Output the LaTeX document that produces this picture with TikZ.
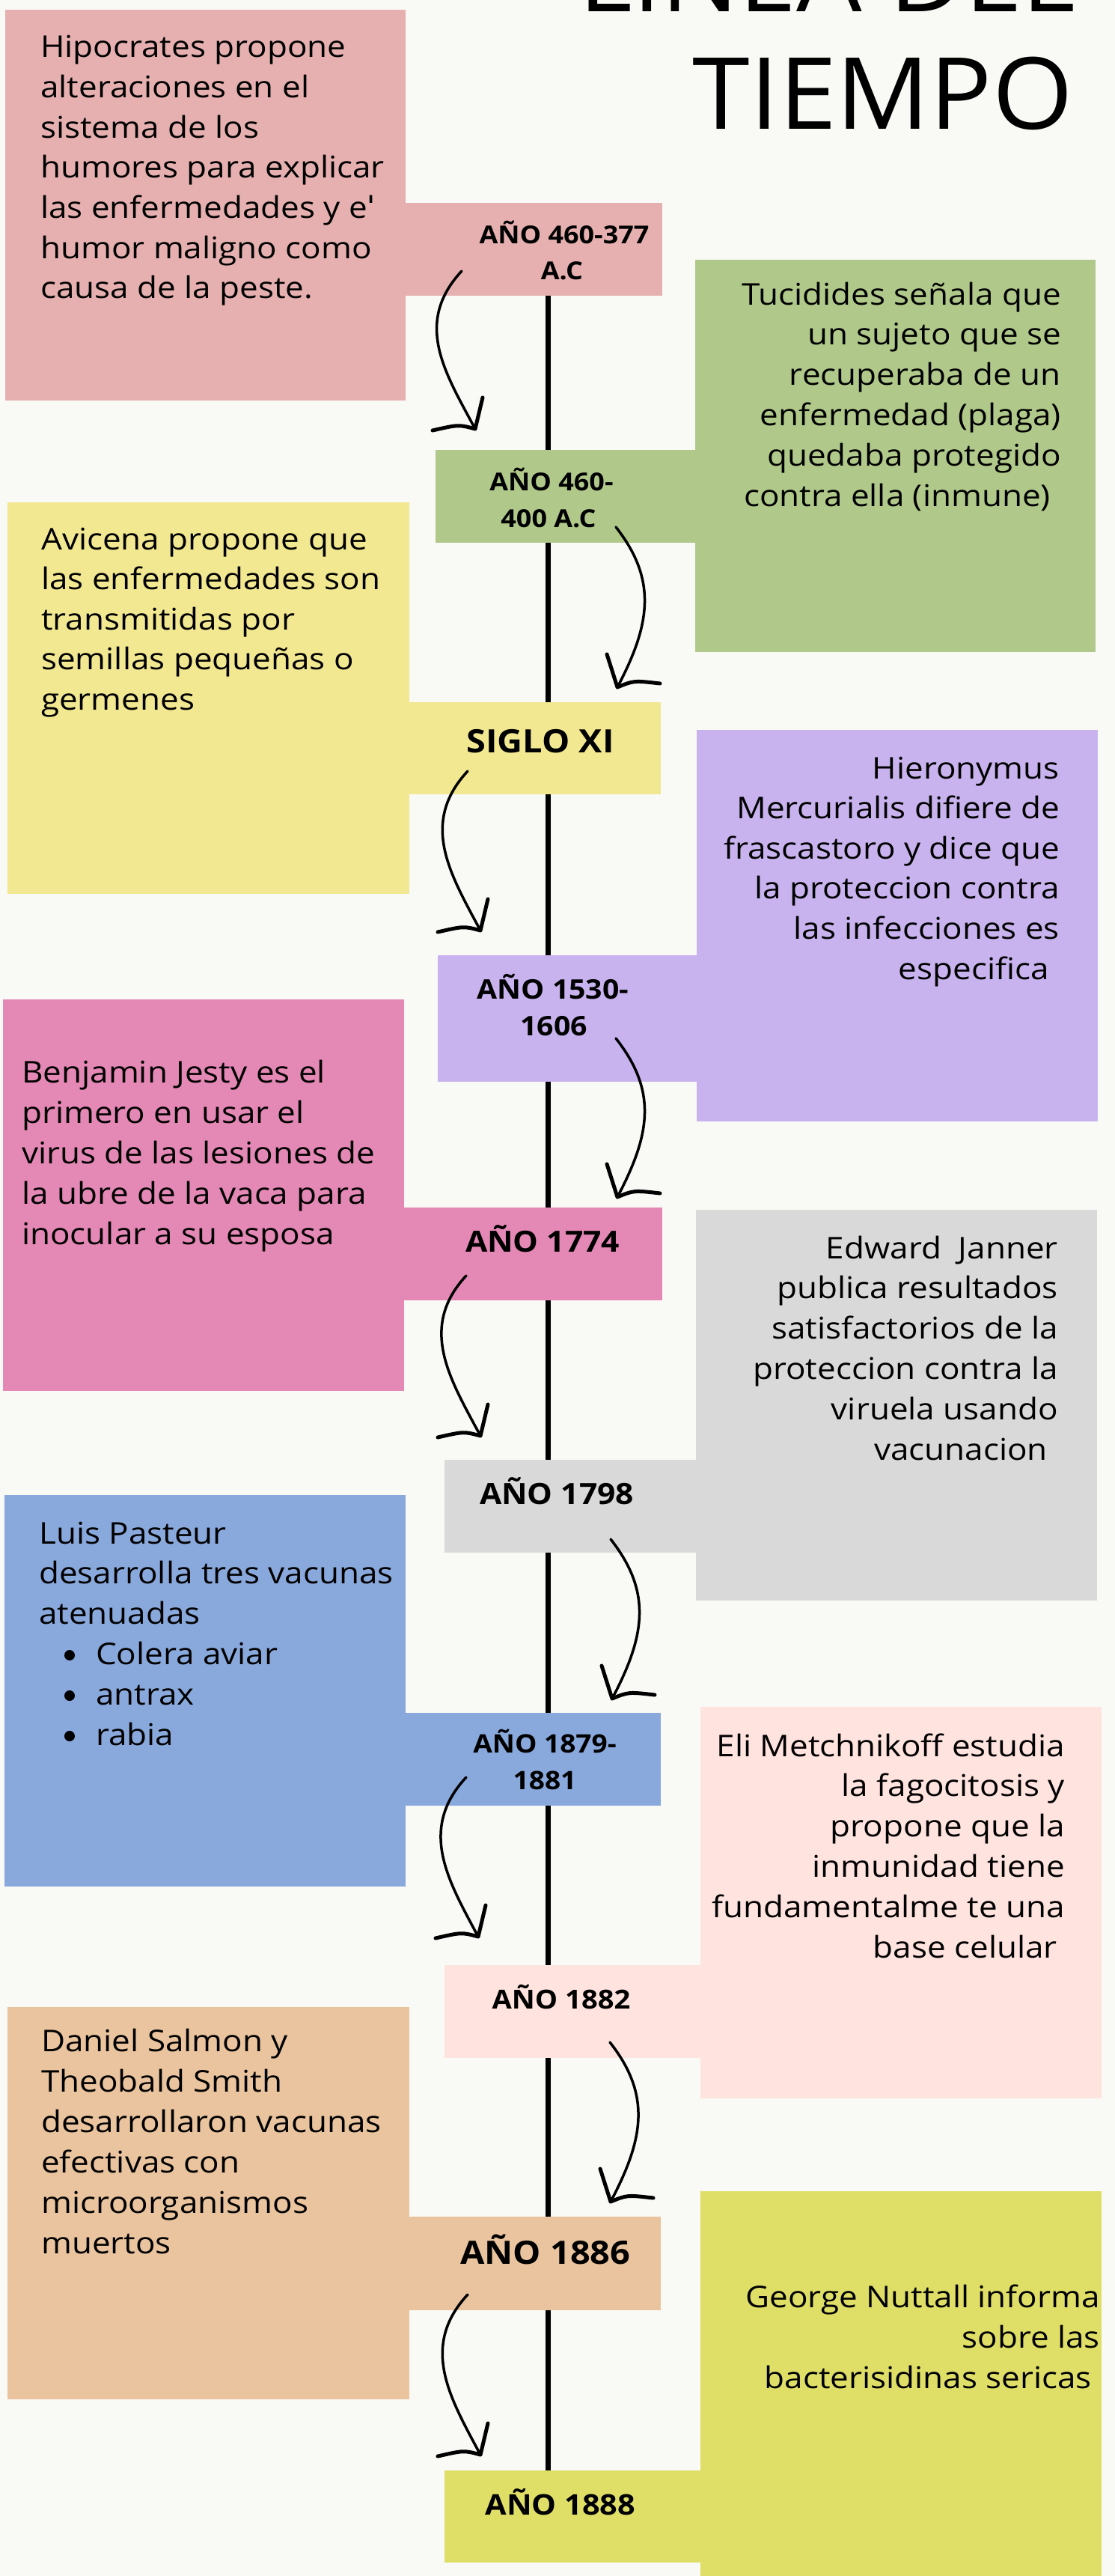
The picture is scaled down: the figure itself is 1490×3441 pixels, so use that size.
\documentclass[tikz,border=0pt]{standalone}
\usepackage{fontspec}
\setmainfont{Open Sans}
\newfontfamily\bodyf[FakeStretch=1.10]{Open Sans}
\newfontfamily\yrf[FakeStretch=1.09]{Open Sans}
\newfontfamily\titlef[FakeStretch=1.04]{Open Sans}
\usetikzlibrary{calc}
\definecolor{bgc}{HTML}{F9F9F5}
\definecolor{cpinkA}{HTML}{E6B0B0}
\definecolor{cgreen}{HTML}{B0C98A}
\definecolor{cyellow}{HTML}{F2E892}
\definecolor{cpurple}{HTML}{C8B3EE}
\definecolor{cpinkB}{HTML}{E488B5}
\definecolor{cgray}{HTML}{D9D9D9}
\definecolor{cblue}{HTML}{89A8DC}
\definecolor{cpinkC}{HTML}{FFE3DF}
\definecolor{ctan}{HTML}{E9C49E}
\definecolor{colive}{HTML}{DFDF68}
\newcommand\arrL[2]{%
  \draw[curv] (#1) .. controls ($(#1)+(-65,70)$) and ($(#2)+(-40,-75)$) .. (#2);
  \draw[barb] ($(#2)+(10,-42)$) -- (#2) .. controls ($(#2)+(-22,-6)$) .. ($(#2)+(-57,2)$);}
\newcommand\arrR[2]{%
  \draw[curv] (#1) .. controls ($(#1)+(55,70)$) and ($(#2)+(45,-85)$) .. (#2);
  \draw[barb] ($(#2)+(-14,-44)$) -- (#2) .. controls ($(#2)+(22,-9)$) .. ($(#2)+(57,-5)$);}
\begin{document}
\begin{tikzpicture}[x=1pt,y=-1pt,
  box/.style={anchor=north west, inner sep=0pt, draw=none, minimum width=#1},
  body/.style={inner sep=0pt, font=\bodyf\fontsize{40}{48}\selectfont},
  yr/.style={inner sep=0pt, anchor=base, font=\yrf\bfseries\fontsize{#1}{#1}\selectfont},
  curv/.style={line width=3.5pt, line cap=round},
  barb/.style={line width=5pt, line cap=round, line join=round},
  tl/.style={line width=7pt}]
\useasboundingbox (0,0) rectangle (1490,3441);
\fill[bgc] (0,0) rectangle (1490,3441);
% timeline
\coordinate (ltop) at (732,395);
\coordinate (lbot) at (732,3300);
\draw[tl] (ltop) -- (lbot);
% cards
\node[box=535, minimum height=522, fill=cpinkA] (c1) at (7,13) {};
\node[box=535, minimum height=524, fill=cgreen] (c2) at (929,347) {};
\node[box=537, minimum height=523, fill=cyellow] (c3) at (10,671) {};
\node[box=536, minimum height=523, fill=cpurple] (c4) at (931,975) {};
\node[box=536, minimum height=523, fill=cpinkB] (c5) at (4,1335) {};
\node[box=536, minimum height=522, fill=cgray] (c6) at (930,1616) {};
\node[box=536, minimum height=523, fill=cblue] (c7) at (6,1997) {};
\node[box=536, minimum height=523, fill=cpinkC] (c8) at (936,2280) {};
\node[box=537, minimum height=524, fill=ctan] (c9) at (10,2681) {};
\node[box=536, minimum height=530, fill=colive] (c10) at (936,2927) {};
% card texts
\foreach \t [count=\i from 0] in {Hipocrates propone, alteraciones en el, sistema de los, humores para explicar, las enfermedades y el, humor maligno como, causa de la peste.}
  \node[body, anchor=base west] (p1-\i) at (54,77+53.6*\i) {\t};
\fill[cpinkA] (489,271) rectangle (542,300);
\foreach \t/\d [count=\i from 0] in {Tucidides señala que/0, un sujeto que se/0, recuperaba de un/0, enfermedad (plaga)/0, quedaba protegido/0, contra ella (inmune)/14}
  \node[body, anchor=base east] (p2-\i) at (1418-\d,407+53.8*\i) {\t};
\foreach \t [count=\i from 0] in {Avicena propone que, las enfermedades son, transmitidas por, semillas pequeñas o, germenes}
  \node[body, anchor=base west] (p3-\i) at (55,734+53.6*\i) {\t};
\foreach \t/\d [count=\i from 0] in {Hieronymus/0, Mercurialis difiere de/0, frascastoro y dice que/0, la proteccion contra/0, las infecciones es/0, especifica/14}
  \node[body, anchor=base east] (p4-\i) at (1416-\d,1040+53.6*\i) {\t};
\foreach \t [count=\i from 0] in {Benjamin Jesty es el, primero en usar el, virus de las lesiones de, la ubre de la vaca para, inocular a su esposa}
  \node[body, anchor=base west] (p5-\i) at (29,1446+54.2*\i) {\t};
\foreach \t/\d [count=\i from 0] in {Edward\ \ Janner/0, publica resultados/0, satisfactorios de la/0, proteccion contra la/0, viruela usando/0, vacunacion/14}
  \node[body, anchor=base east] (p6-\i) at (1414-\d,1681+53.9*\i) {\t};
\foreach \t [count=\i from 0] in {Luis Pasteur, desarrolla tres vacunas, atenuadas}
  \node[body, anchor=base west] (p7-\i) at (52,2062+53.8*\i) {\t};
\foreach \t [count=\i from 0] in {Colera aviar, antrax, rabia}{
  \node[body, anchor=base west] (q7-\i) at (128,2223+54*\i) {\t};
  \node[circle, fill=black, inner sep=0pt, minimum size=14pt] (b7-\i) at (93,2211+54*\i) {};}
\foreach \t/\d [count=\i from 0] in {Eli Metchnikoff estudia/0, la fagocitosis y/0, propone que la/0, inmunidad tiene/0, fundamentalme te una/0, base celular/10}
  \node[body, anchor=base east] (p8-\i) at (1423-\d,2346+53.8*\i) {\t};
\foreach \t [count=\i from 0] in {Daniel Salmon y, Theobald Smith, desarrollaron vacunas, efectivas con, microorganismos, muertos}
  \node[body, anchor=base west] (p9-\i) at (55,2740+54*\i) {\t};
\foreach \t/\d [count=\i from 0] in {George Nuttall informa/0, sobre las/0, bacterisidinas sericas/11}
  \node[body, anchor=base east] (p10-\i) at (1470-\d,3082+54.3*\i) {\t};
% tabs
\node[box=343, minimum height=124, fill=cpinkA] (t1) at (542,271) {};
\node[box=347, minimum height=124, fill=cgreen] (t2) at (582,601) {};
\node[box=336, minimum height=123, fill=cyellow] (t3) at (547,938) {};
\node[box=346, minimum height=169, fill=cpurple] (t4) at (585,1276) {};
\node[box=345, minimum height=124, fill=cpinkB] (t5) at (540,1613) {};
\node[box=336, minimum height=124, fill=cgray] (t6) at (594,1950) {};
\node[box=341, minimum height=124, fill=cblue] (t7) at (542,2288) {};
\node[box=342, minimum height=124, fill=cpinkC] (t8) at (594,2625) {};
\node[box=336, minimum height=125, fill=ctan] (t9) at (547,2961) {};
\node[box=342, minimum height=123, fill=colive] (t10) at (594,3300) {};
% tab labels
\node[yr=33] (y1a) at (754,325) {AÑO 460-377};
\node[yr=33] (y1b) at (751,373) {A.C};
\node[yr=33] (y2a) at (737,655) {AÑO 460-};
\node[yr=33] (y2b) at (733,704) {400 A.C};
\node[yr=43] (y3) at (722,1005) {SIGLO XI};
\node[yr=36] (y4a) at (739,1334) {AÑO 1530-};
\node[yr=36] (y4b) at (740,1383) {1606};
\node[yr=39] (y5) at (725,1672) {AÑO 1774};
\node[yr=39] (y6) at (744,2009) {AÑO 1798};
\node[yr=34] (y7a) at (728,2341) {AÑO 1879-};
\node[yr=34] (y7b) at (728,2390) {1881};
\node[yr=35] (y8) at (750,2683) {AÑO 1882};
\node[yr=43] (y9) at (729,3024) {AÑO 1886};
\node[yr=38] (y10) at (749,3359) {AÑO 1888};
% arrows
\coordinate (a1s) at (617,362);  \coordinate (a1t) at (635,573);
\coordinate (a2s) at (823,704);  \coordinate (a2t) at (825,918);
\coordinate (a3s) at (625,1030); \coordinate (a3t) at (642,1243);
\coordinate (a4s) at (823,1387); \coordinate (a4t) at (825,1599);
\coordinate (a5s) at (623,1704); \coordinate (a5t) at (642,1918);
\coordinate (a6s) at (816,2056); \coordinate (a6t) at (818,2269);
\coordinate (a7s) at (623,2374); \coordinate (a7t) at (639,2587);
\coordinate (a8s) at (815,2728); \coordinate (a8t) at (816,2941);
\coordinate (a9s) at (625,3065); \coordinate (a9t) at (642,3279);
\arrL{a1s}{a1t}
\arrR{a2s}{a2t}
\arrL{a3s}{a3t}
\arrR{a4s}{a4t}
\arrL{a5s}{a5t}
\arrR{a6s}{a6t}
\arrL{a7s}{a7t}
\arrR{a8s}{a8t}
\arrL{a9s}{a9t}
% title
\node[inner sep=0pt, anchor=base east, font=\titlef\fontsize{133}{160}\selectfont] (ti1) at (1438,16) {LINEA DEL};
\node[inner sep=0pt, anchor=base east, font=\titlef\fontsize{133}{160}\selectfont] (ti2) at (1434,173) {TIEMPO};
\end{tikzpicture}
\end{document}
